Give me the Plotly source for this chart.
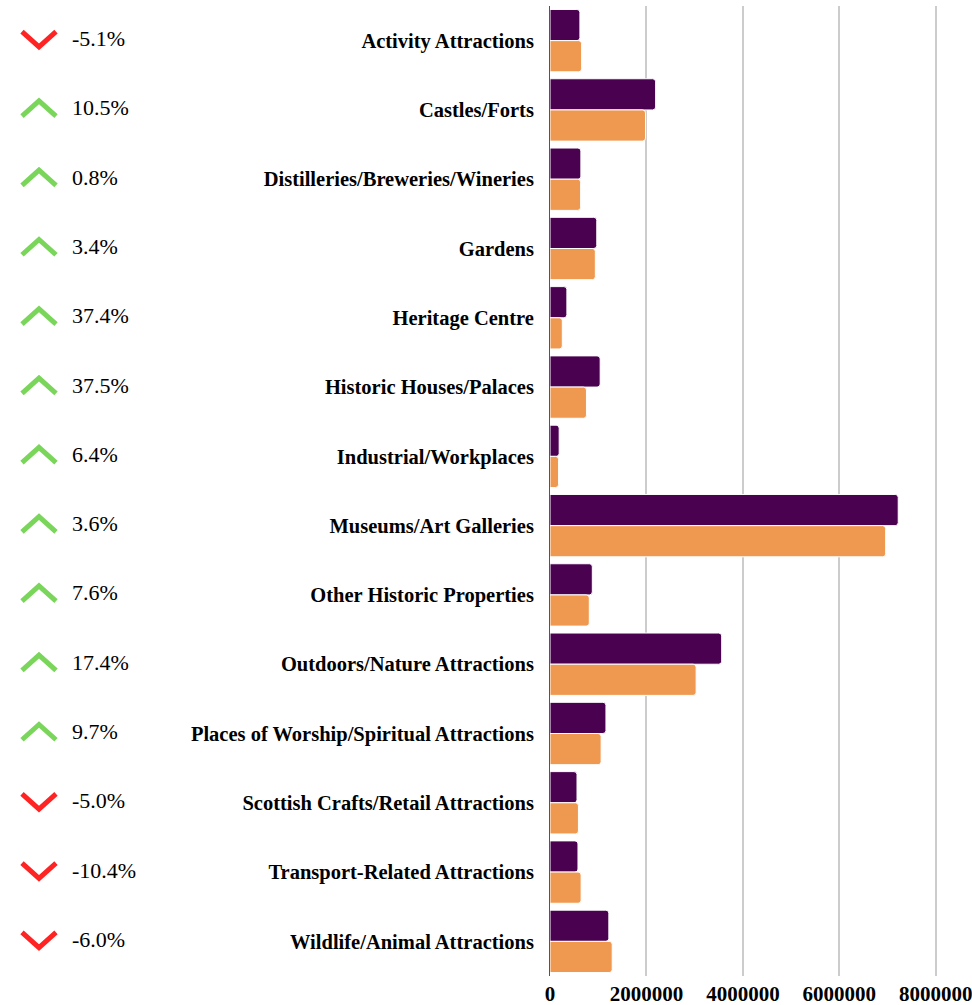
import plotly.graph_objects as go

categories = [
    "Activity Attractions", "Castles/Forts", "Distilleries/Breweries/Wineries",
    "Gardens", "Heritage Centre", "Historic Houses/Palaces", "Industrial/Workplaces",
    "Museums/Art Galleries", "Other Historic Properties", "Outdoors/Nature Attractions",
    "Places of Worship/Spiritual Attractions", "Scottish Crafts/Retail Attractions",
    "Transport-Related Attractions", "Wildlife/Animal Attractions",
]
current_year = [620000, 2190000, 640000, 970000, 350000, 1040000, 190000,
                7220000, 877000, 3560000, 1160000, 560000, 580000, 1220000]
previous_year = [656000, 1980000, 635000, 940000, 255000, 756000, 178000,
                 6960000, 815000, 3030000, 1060000, 590000, 645000, 1290000]
pct_change = [-5.1, 10.5, 0.8, 3.4, 37.4, 37.5, 6.4, 3.6, 7.6, 17.4, 9.7, -5.0, -10.4, -6.0]
tick_vals = [0, 2000000, 4000000, 6000000, 8000000]

PURPLE = "#4a0150"
ORANGE = "#ee994f"
RED = "#ff2424"
GREEN = "#7ad65a"
SERIF = "Liberation Serif, Times New Roman, Times, serif"

fig = go.Figure()
fig.add_trace(go.Bar(y=categories, x=current_year, orientation="h",
                     marker=dict(color=PURPLE, line=dict(color="white", width=1), cornerradius=3),
                     showlegend=False, hoverinfo="x"))
fig.add_trace(go.Bar(y=categories, x=previous_year, orientation="h",
                     marker=dict(color=ORANGE, line=dict(color="white", width=1), cornerradius=3),
                     showlegend=False, hoverinfo="x"))

# chevron indicators (left panel)
h = 0.11
xs_up, ys_up, xs_dn, ys_dn = [], [], [], []
for i, v in enumerate(pct_change):
    yc = i - 0.02
    if v >= 0:
        xs_up += [22, 39, 56, None]
        ys_up += [yc + h, yc - h, yc + h, None]
    else:
        xs_dn += [22, 39, 56, None]
        ys_dn += [yc - h, yc + h, yc - h, None]
fig.add_trace(go.Scatter(x=xs_up, y=ys_up, mode="lines", xaxis="x2", yaxis="y2",
                         line=dict(color=GREEN, width=5), showlegend=False, hoverinfo="skip"))
fig.add_trace(go.Scatter(x=xs_dn, y=ys_dn, mode="lines", xaxis="x2", yaxis="y2",
                         line=dict(color=RED, width=5), showlegend=False, hoverinfo="skip"))
fig.add_trace(go.Scatter(x=[72] * len(pct_change), y=list(range(len(pct_change))),
                         text=[f"{v:.1f}%" for v in pct_change], mode="text",
                         textposition="middle right", xaxis="x2", yaxis="y2",
                         textfont=dict(family=SERIF, size=22, color="black"),
                         showlegend=False, hoverinfo="skip"))

x0 = 550 / 972
fig.update_layout(
    width=972, height=1005,
    margin=dict(l=0, r=0, t=6, b=29),
    paper_bgcolor="white", plot_bgcolor="white",
    barmode="group", bargap=0.1, bargroupgap=0.0,
    xaxis=dict(domain=[x0, 1], range=[0, 8750000], tickvals=tick_vals,
               ticktext=[str(v) for v in tick_vals], automargin=False,
               ticklabelstandoff=3, ticklabeloverflow="allow",
               showgrid=True, gridcolor="#cccccc", gridwidth=1.5, zeroline=False,
               showline=False,
               tickfont=dict(family=SERIF, size=21, color="black", weight="bold")),
    yaxis=dict(categoryorder="array", categoryarray=categories, autorange="reversed",
               showline=True, linecolor="#555555", linewidth=1, showgrid=False,
               ticklabelstandoff=11, automargin=False,
               tickfont=dict(family=SERIF, size=20.5, color="black", weight="bold")),
    xaxis2=dict(domain=[0, 0.2], range=[0, 0.2 * 972], visible=False, anchor="y2"),
    yaxis2=dict(domain=[0, 1], range=[len(categories) - 0.5, -0.5], visible=False, anchor="x2"),
)

fig.write_html("out.html", config={"displayModeBar": False},
               post_script="document.body.style.margin='0px';")
